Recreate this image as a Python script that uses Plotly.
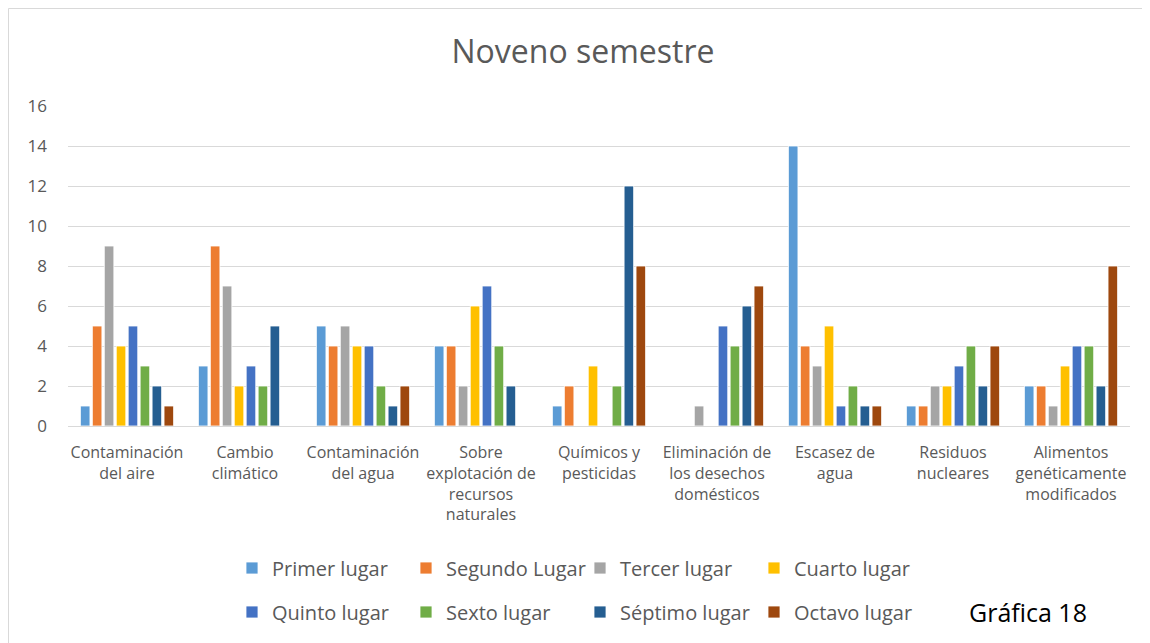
import plotly.graph_objects as go

categories = [
    "Contaminación<br>del aire",
    "Cambio<br>climático",
    "Contaminación<br>del agua",
    "Sobre<br>explotación de<br>recursos<br>naturales",
    "Químicos y<br>pesticidas",
    "Eliminación de<br>los desechos<br>domésticos",
    "Escasez de<br>agua",
    "Residuos<br>nucleares",
    "Alimentos<br>genéticamente<br>modificados",
]

series_names = ["Primer lugar", "Segundo Lugar", "Tercer lugar", "Cuarto lugar",
                "Quinto lugar", "Sexto lugar", "Séptimo lugar", "Octavo lugar"]

primer = [1, 3, 5, 4, 1, 0, 14, 1, 2]
segundo = [5, 9, 4, 4, 2, 0, 4, 1, 2]
tercer = [9, 7, 5, 2, 0, 1, 3, 2, 1]
cuarto = [4, 2, 4, 6, 3, 0, 5, 2, 3]
quinto = [5, 3, 4, 7, 0, 5, 1, 3, 4]
sexto = [3, 2, 2, 4, 2, 4, 2, 4, 4]
septimo = [2, 5, 1, 2, 12, 6, 1, 2, 2]
octavo = [1, 0, 2, 0, 8, 7, 1, 4, 8]

series_values = [primer, segundo, tercer, cuarto, quinto, sexto, septimo, octavo]
colors = ["#5B9BD5", "#ED7D31", "#A5A5A5", "#FFC000",
          "#4472C4", "#70AD47", "#255E91", "#9E480E"]

# page body has an 8px margin: work in figure coordinates = screen - 8
OFF = 8
W, H = 1150 - OFF, 643 - OFF
L, T = 68 - OFF, 106 - OFF
R, B = 20, 217
pw, ph = W - L - R, H - T - B

def px_x(x):
    # x given in screen pixels
    return (x - OFF - L) / pw

def px_y(y):
    # y given in screen pixels
    return (H - B - (y - OFF)) / ph

TEXT = "#595959"
FONT = "Open Sans, Noto Sans, sans-serif"

fig = go.Figure()
for i, (name, vals, col) in enumerate(zip(series_names, series_values, colors)):
    fig.add_trace(go.Bar(
        x=categories, y=vals, name=name,
        marker=dict(color=col, line=dict(color="white", width=0.8)),
        legend="legend" if i < 4 else "legend2",
    ))

legend_common = dict(
    orientation="h", xanchor="left", yanchor="middle",
    font=dict(family=FONT, size=20, color=TEXT),
    entrywidth=129, entrywidthmode="pixels",
    itemwidth=30, bgcolor="rgba(0,0,0,0)", tracegroupgap=0,
)

fig.update_layout(
    width=W, height=H,
    margin=dict(l=L, r=R, t=T, b=B),
    paper_bgcolor="white", plot_bgcolor="white",
    barmode="group", bargap=0.19, bargroupgap=0.2,
    title=dict(text="Noveno semestre", x=(583 - OFF) / W, xanchor="center",
               y=1 - (52 - OFF) / H, yanchor="middle",
               font=dict(family=FONT, size=32, color=TEXT)),
    font=dict(family=FONT, color=TEXT),
    legend=dict(x=px_x(232), y=px_y(568), **legend_common),
    legend2=dict(x=px_x(232), y=px_y(612), **legend_common),
    xaxis=dict(
        tickfont=dict(family=FONT, size=16, color=TEXT),
        showline=False, ticks="", showgrid=False,
        ticklabelstandoff=15,
    ),
    yaxis=dict(
        range=[0, 16], dtick=2, tick0=0,
        gridcolor="#D9D9D9", gridwidth=1,
        zeroline=True, zerolinecolor="#D9D9D9", zerolinewidth=1,
        tickfont=dict(family=FONT, size=17, color=TEXT),
        ticklabelstandoff=20, showline=False, ticks="",
    ),
    shapes=[dict(type="rect", xref="paper", yref="paper",
                 x0=px_x(8.5), x1=px_x(1180), y0=px_y(8.5), y1=px_y(680),
                 line=dict(color="#D9D9D9", width=1), fillcolor="rgba(0,0,0,0)",
                 layer="below")],
    annotations=[dict(text="Gráfica 18", xref="paper", yref="paper",
                      x=px_x(1028), y=px_y(612), xanchor="center", yanchor="middle",
                      showarrow=False,
                      font=dict(family="Liberation Sans Narrow, Open Sans, sans-serif",
                                size=25, color="black"))],
)

fig.write_html("out.html")
